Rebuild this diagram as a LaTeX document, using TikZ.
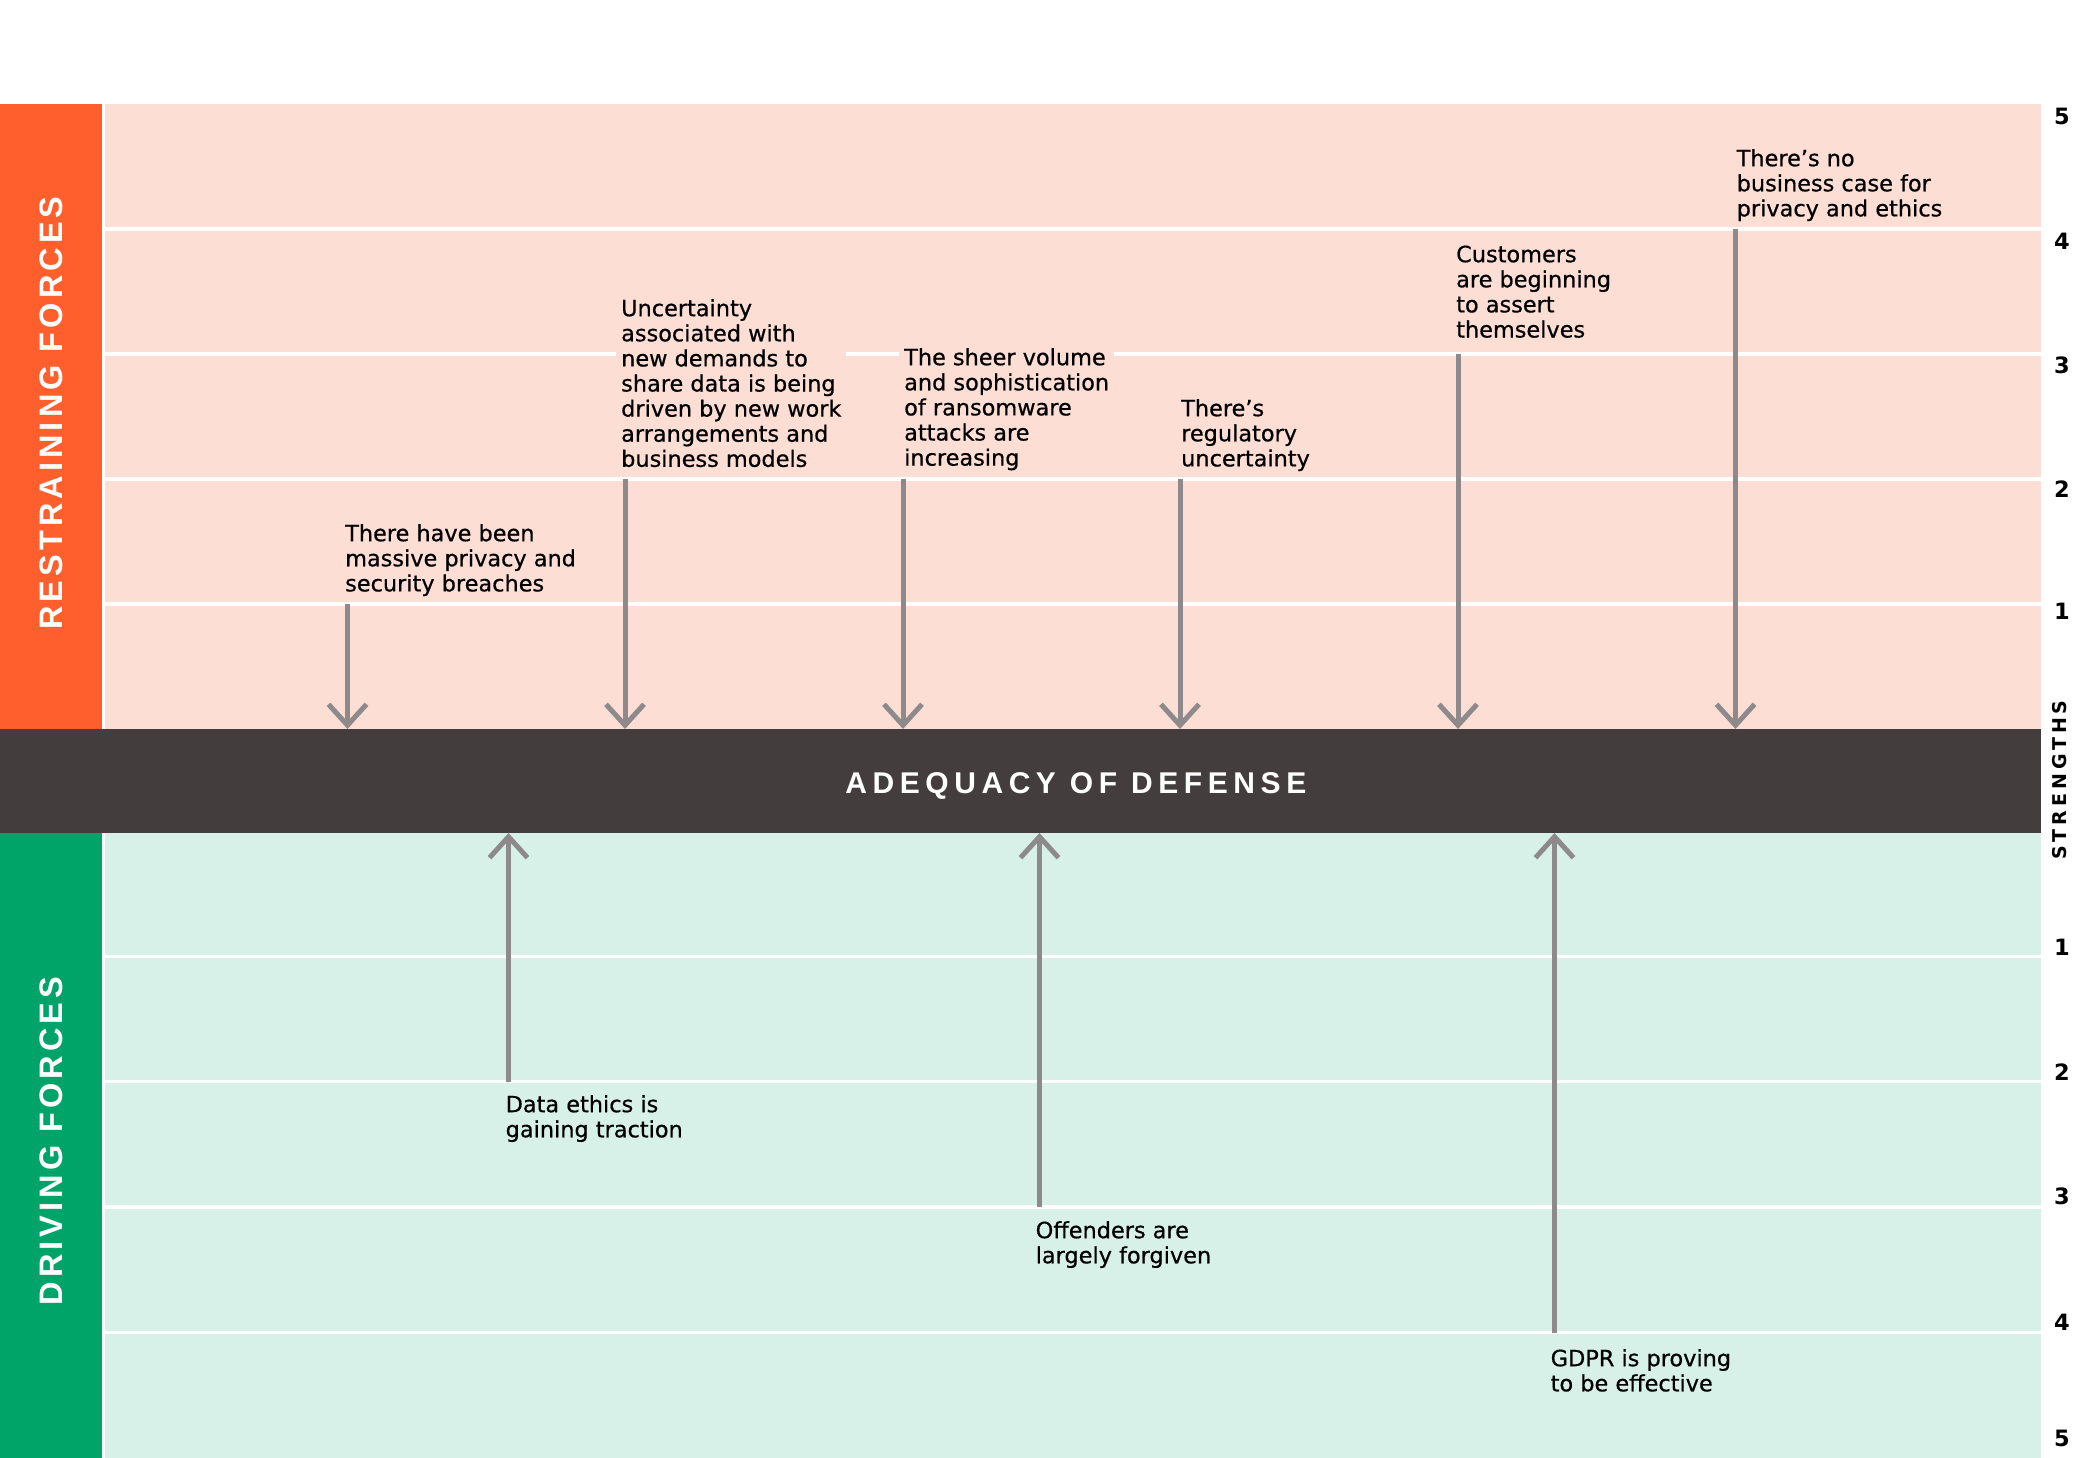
\documentclass[tikz,border=0pt]{standalone}
\usepackage{fontspec}
\setmainfont{DejaVu Sans}[FakeBold=0.6]
\newfontfamily\bandfont{Liberation Sans}[LetterSpace=18.6]
\newfontfamily\sidefont{Liberation Sans}[LetterSpace=12.5]
\newfontfamily\strfont{DejaVu Sans}[LetterSpace=20.5]
\newfontfamily\numfont{DejaVu Sans}
\usetikzlibrary{arrows.meta}
\definecolor{orangebar}{RGB}{255,95,44}
\definecolor{salmonbg}{RGB}{253,222,212}
\definecolor{darkband}{RGB}{67,61,61}
\definecolor{greenbar}{RGB}{0,164,104}
\definecolor{mintbg}{RGB}{216,241,232}
\definecolor{arrowgray}{RGB}{142,137,138}
\begin{document}
\begin{tikzpicture}[x=1pt,y=-1pt,
  gridline/.style={white, line width=3.5pt},
  force/.style={arrowgray, line width=5pt, -{Straight Barb[length=21pt,width=38pt,sharp]}},
  lbl/.style={anchor=north west, align=left, inner xsep=5pt, inner ysep=0pt,
    font=\fontsize{22.4}{25.1}\selectfont, text=black},
  uplbl/.style={lbl, fill=salmonbg},
  lowlbl/.style={lbl, fill=mintbg},
  sidelbl/.style={rotate=90, text=white, inner sep=0pt,
    font=\sidefont\bfseries\fontsize{32.5}{34}\selectfont},
  numlbl/.style={inner sep=0pt, text=black,
    font=\numfont\bfseries\fontsize{22.5}{24}\selectfont}
]
\useasboundingbox[fill=white] (0,0) rectangle (2083,1458);

% backgrounds
\fill[salmonbg] (104.5,104) rectangle (2041,729);
\fill[mintbg] (104.5,833) rectangle (2041,1458);
\fill[orangebar] (0,104) rectangle (102,729);
\fill[greenbar] (0,833) rectangle (102,1458);

% grid lines
\foreach \yy in {229,354,479,604} \draw[gridline] (104.5,\yy) -- (2041,\yy);
\foreach \yy in {956.5,1081.5,1207,1332.5} \draw[gridline] (104.5,\yy) -- (2041,\yy);

% band
\fill[darkband] (0,729) rectangle (2041,833);
\node[anchor=base, text=white, inner sep=0pt,
  font=\bandfont\bfseries\fontsize{30}{32}\selectfont] (band) at (1075.8,793) {ADEQUACY OF DEFENSE};

% side labels
\node[sidelbl] (restr) at (51,413) {RESTRAINING FORCES};
\node[sidelbl] (driv) at (51.5,1141) {DRIVING FORCES};

% labels (restraining)
\node[uplbl] (t1) at (340,523) {\rule{0pt}{18pt}There have been\\massive privacy and\\security breaches};
\node[uplbl] (t2) at (616,298) {\rule{0pt}{18pt}Uncertainty\\associated with\\new demands to\\share data is being\\driven by new work\\arrangements and\\business models};
\node[uplbl] (t3) at (899,347) {\rule{0pt}{18pt}The sheer volume\\and sophistication\\of ransomware\\attacks are\\increasing};
\node[uplbl] (t4) at (1176,398) {\rule{0pt}{18pt}There’s\\regulatory\\uncertainty};
\node[uplbl] (t5) at (1451,244) {\rule{0pt}{18pt}Customers\\are beginning\\to assert\\themselves};
\node[uplbl] (t6) at (1731.5,148) {\rule{0pt}{18pt}There’s no\\business case for\\privacy and ethics};

% labels (driving)
\node[lowlbl] (t7) at (500.5,1094) {\rule{0pt}{18pt}Data ethics is\\gaining traction};
\node[lowlbl] (t8) at (1030.5,1220) {\rule{0pt}{18pt}Offenders are\\largely forgiven};
\node[lowlbl] (t9) at (1545.5,1348) {\rule{0pt}{18pt}GDPR is proving\\to be effective};

% arrow end points
\coordinate (r1a) at (347.5,604);  \coordinate (r1b) at (347.5,729);
\coordinate (r2a) at (625,479);    \coordinate (r2b) at (625,729);
\coordinate (r3a) at (903,479);    \coordinate (r3b) at (903,729);
\coordinate (r4a) at (1180,479);   \coordinate (r4b) at (1180,729);
\coordinate (r5a) at (1458,354);   \coordinate (r5b) at (1458,729);
\coordinate (r6a) at (1735.5,229); \coordinate (r6b) at (1735.5,729);
\coordinate (d1a) at (508.5,1081.5); \coordinate (d1b) at (508.5,833);
\coordinate (d2a) at (1039.5,1207);  \coordinate (d2b) at (1039.5,833);
\coordinate (d3a) at (1554.5,1332.5);\coordinate (d3b) at (1554.5,833);

\foreach \a in {r1,r2,r3,r4,r5,r6,d1,d2,d3} \draw[force] (\a a) -- (\a b);

% strengths scale
\node[numlbl] (u5) at (2062,116) {5};
\node[numlbl] (u4) at (2062,241) {4};
\node[numlbl] (u3) at (2062,365) {3};
\node[numlbl] (u2) at (2062,489.5) {2};
\node[numlbl] (u1) at (2062,611.5) {1};
\node[rotate=90, inner sep=0pt, text=black,
  font=\strfont\bfseries\fontsize{19}{20}\selectfont] (str) at (2059.5,780) {STRENGTHS};
\node[numlbl] (l1) at (2062,947) {1};
\node[numlbl] (l2) at (2062,1072) {2};
\node[numlbl] (l3) at (2062,1196.5) {3};
\node[numlbl] (l4) at (2062,1322.5) {4};
\node[numlbl] (l5) at (2062,1438) {5};
\end{tikzpicture}
\end{document}
